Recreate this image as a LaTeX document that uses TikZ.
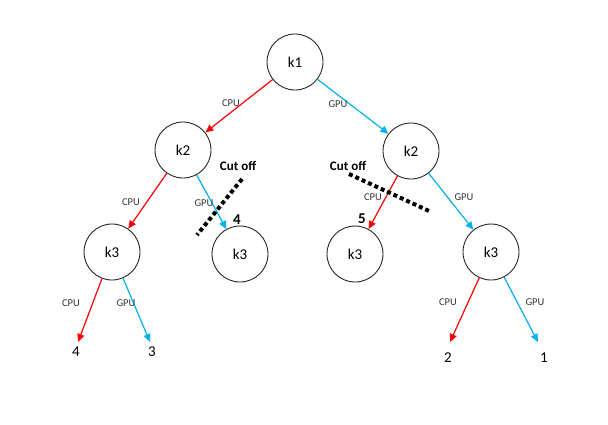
\documentclass[tikz,border=0pt]{standalone}
\usepackage{fontspec}
\setmainfont{Carlito}
\usetikzlibrary{arrows.meta}
\definecolor{cpured}{RGB}{255,0,0}
\definecolor{gpublue}{RGB}{0,176,240}
\tikzset{
  knode/.style={draw=black!85, line width=0.9pt, circle, minimum size=56pt, inner sep=0pt, font=\fontsize{15}{17}\selectfont},
  cpu/.style={draw=cpured, line width=1.2pt, -{Triangle[length=8pt,width=7pt]}},
  gpu/.style={draw=gpublue, line width=1.2pt, -{Triangle[length=8pt,width=7pt]}},
  elabel/.style={font=\fontsize{10.5}{12}\selectfont, text=black!80},
  cutline/.style={line width=4pt, dash pattern=on 4pt off 3pt},
  cuttext/.style={font=\bfseries\fontsize{13}{15}\selectfont},
  numtext/.style={font=\bfseries\fontsize{15}{17}\selectfont},
  leaf/.style={font=\fontsize{15}{17}\selectfont, inner sep=0pt}
}
\begin{document}
\begin{tikzpicture}[x=1pt,y=-1pt]
\useasboundingbox (0,0) rectangle (608,424);
\node[knode] (k1) at (295,62) {k1};
\node[knode] (k2l) at (183,150) {k2};
\node[knode] (k2r) at (411,151) {k2};
\node[knode] (k3a) at (112,252) {k3};
\node[knode] (k3b) at (240,254) {k3};
\node[knode] (k3c) at (355,254) {k3};
\node[knode] (k3d) at (491,252) {k3};
\node[leaf] (l4) at (76,352) {4};
\node[leaf] (l3) at (152,352) {3};
\node[leaf] (l2) at (448,358) {2};
\node[leaf] (l1) at (544,358) {1};
\coordinate (t4) at (78,342);
\coordinate (t3) at (150,342);
\coordinate (t2) at (450,342);
\coordinate (t1) at (538,342);
\draw[cpu] (k1) -- (k2l);
\draw[gpu] (k1) -- (k2r);
\draw[cpu] (k2l) -- (k3a);
\draw[gpu] (k2l) -- (k3b);
\draw[cpu] (k2r) -- (k3c);
\draw[gpu] (k2r) -- (k3d);
\draw[cpu] (k3a) -- (t4);
\draw[gpu] (k3a) -- (t3);
\draw[cpu] (k3d) -- (t2);
\draw[gpu] (k3d) -- (t1);
\node[elabel] (c1) at (231,103) {CPU};
\node[elabel] (g1) at (338,104) {GPU};
\node[elabel] (c2) at (131,202) {CPU};
\node[elabel] (g2) at (204,203) {GPU};
\node[elabel] (c3) at (373,197) {CPU};
\node[elabel] (g3) at (464,197) {GPU};
\node[elabel] (c4) at (71,303) {CPU};
\node[elabel] (g4) at (126,303) {GPU};
\node[elabel] (c5) at (448,302) {CPU};
\node[elabel] (g5) at (535,302) {GPU};
\coordinate (cutA1) at (242,179);
\coordinate (cutA2) at (197,235);
\coordinate (cutB1) at (349,174);
\coordinate (cutB2) at (429,211);
\draw[cutline] (cutA1) -- (cutA2);
\draw[cutline] (cutB1) -- (cutB2);
\node[cuttext] (cutAt) at (238,166) {Cut off};
\node[cuttext] (cutBt) at (348,166) {Cut off};
\node[numtext] (n4) at (237,220) {4};
\node[numtext] (n5) at (362,219) {5};
\end{tikzpicture}
\end{document}
